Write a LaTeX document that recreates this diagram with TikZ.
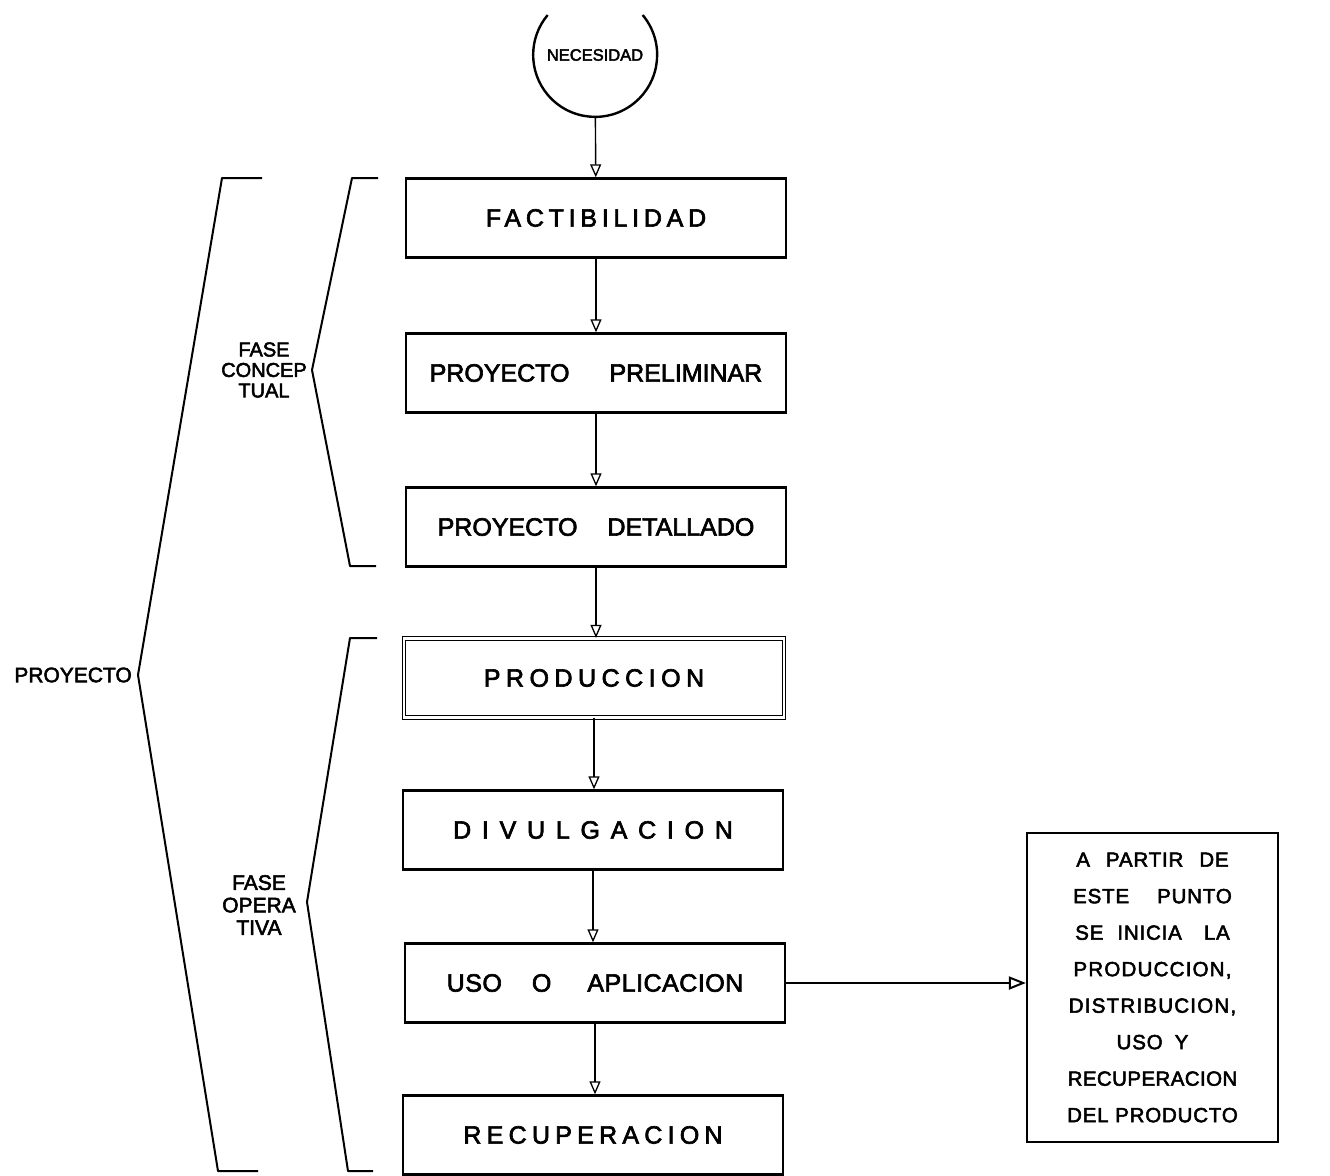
\documentclass[tikz,border=0pt]{standalone}
\usepackage{fontspec}
\setmainfont{Liberation Sans}[FakeBold=2.6]
\usetikzlibrary{arrows.meta}
\newcommand{\lsp}[2]{{\addfontfeature{LetterSpace=#1}#2}}
\tikzset{
  stage/.style={draw, line width=2.4pt, minimum width=380pt, minimum height=79pt,
    inner sep=0pt, font=\fontsize{25}{30}\selectfont},
  dstage/.style={stage, line width=1.3pt, double, double distance=2.2pt},
  flow/.style={line width=1.4pt, -{Triangle[open, length=13pt, width=11pt, line width=1.3pt]}},
  bigflow/.style={line width=2.2pt, -{Triangle[open, length=17pt, width=13pt, line width=2pt]}},
  bracket/.style={line width=2pt, line join=round},
  lbl/.style={align=center, inner sep=0pt},
}
\begin{document}
\begin{tikzpicture}[x=1pt,y=-1pt]
\useasboundingbox (0,0) rectangle (1330,1175);

% start circle
\node[circle, minimum size=124pt, inner sep=0pt, font=\fontsize{16.5}{16}\selectfont] (need) at (595,55) {NECESIDAD};
\draw[line width=2.4pt] (need.40) arc[start angle=40, end angle=-220, radius=62pt];

% stages
\node[stage] (fact) at (596,218) {\lsp{19}{FACTIBILIDAD}};
\node[stage] (prel) at (596,373) {PROYECTO\hspace{40pt}PRELIMINAR};
\node[stage] (det) at (596,527) {PROYECTO\hspace{30pt}DETALLADO};
\node[dstage] (prod) at (594,678) {\lsp{22}{PRODUCCION}};
\node[stage] (div) at (593,830) {\lsp{43}{DIVULGACION}};
\node[stage] (uso) at (595,983) {\lsp{2}{USO\hspace{30pt}O\hspace{36pt}APLICACION}};
\node[stage] (rec) at (593,1135) {\lsp{21}{RECUPERACION}};

% side note
\node[draw, line width=2.2pt, minimum width=251pt, minimum height=309pt, inner sep=0pt,
  align=center, font=\fontsize{20.5}{36.5}\selectfont] (rbox) at (1152.5,987.5)
  {\lsp{4}{A\hspace{16pt}PARTIR\hspace{16pt}DE}\\
   \lsp{4}{ESTE\hspace{28pt}PUNTO}\\
   \lsp{4}{SE\hspace{14pt}INICIA\hspace{22pt}LA}\\
   \lsp{6}{PRODUCCION,}\\
   \lsp{6}{DISTRIBUCION,}\\
   \lsp{4}{USO\hspace{12pt}Y}\\
   \lsp{2}{RECUPERACION}\\
   \lsp{4}{DEL PRODUCTO}};

% connectors
\draw[flow] (need) -- (fact);
\draw[flow] (fact) -- (prel);
\draw[flow] (prel) -- (det);
\draw[flow] (det) -- (det.south |- prod.north);
\draw[flow] (prod) -- (prod.south |- div.north);
\draw[flow] (div) -- (div.south |- uso.north);
\draw[flow] (uso) -- (uso.south |- rec.north);
\draw[bigflow] (uso.east) -- (uso.east -| rbox.west);

% brackets
\coordinate (ptip) at (138,675);
\coordinate (ctip) at (312,370);
\coordinate (otip) at (307,902);
\draw[bracket] (262,178) -- (222,178) -- (ptip) -- (218,1171) -- (258,1171);
\draw[bracket] (378,178) -- (352,178) -- (ctip) -- (350,566) -- (376,566);
\draw[bracket] (377,638) -- (350,638) -- (otip) -- (348,1171) -- (373,1171);

% bracket labels
\node[lbl, font=\fontsize{21}{21}\selectfont, anchor=east] (proy) at (132,675) {PROYECTO};
\node[lbl, font=\fontsize{20}{20.5}\selectfont] (fc) at (264,370) {FASE\\CONCEP\\TUAL};
\node[lbl, font=\fontsize{21}{22.5}\selectfont] (fo) at (259,905) {FASE\\OPERA\\TIVA};
\end{tikzpicture}
\end{document}
